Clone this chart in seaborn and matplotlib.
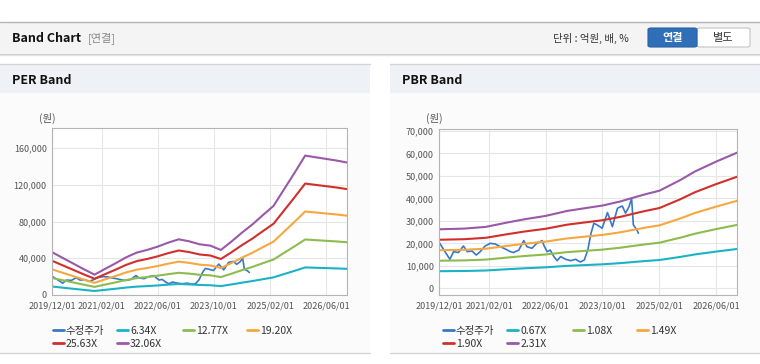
import pandas as pd
import seaborn as sns
import matplotlib.pyplot as plt
from matplotlib.patches import Rectangle, FancyBboxPatch
from matplotlib.lines import Line2D

sns.set_style('white')
plt.rcParams['font.family'] = ['Noto Sans CJK KR', 'DejaVu Sans']

# adjusted share price (shared by both charts)
price_dates = ['2019-12-01', '2020-01-04', '2020-03-01', '2020-04-01', '2020-05-13', '2020-06-25',
               '2020-07-28', '2020-09-07', '2020-10-13', '2020-11-16', '2020-12-28', '2021-02-10',
               '2021-03-25', '2021-05-07', '2021-06-19', '2021-08-01', '2021-08-28', '2021-10-13',
               '2021-11-25', '2021-12-22', '2022-02-03', '2022-03-16', '2022-05-01', '2022-05-19',
               '2022-06-13', '2022-07-10', '2022-08-10', '2022-09-07', '2022-10-07', '2022-11-19',
               '2023-01-01', '2023-02-13', '2023-03-25', '2023-04-28', '2023-05-28', '2023-06-25',
               '2023-07-19', '2023-08-16', '2023-09-28', '2023-11-13', '2023-12-25', '2024-02-07',
               '2024-03-19', '2024-04-16', '2024-05-16', '2024-06-07', '2024-06-22', '2024-07-22',
               '2024-08-04']
price_values = [20300, 17500, 12900, 16300, 15900, 18800, 16300, 16600, 14800, 16300, 18800, 20000,
                19700, 18500, 17500, 16300, 15900, 17000, 21200, 18500, 17800, 20000, 21200, 18800,
                16300, 17000, 14100, 12300, 14100, 12900, 12300, 12900, 11700, 12600, 17000, 24500,
                28900, 28200, 26700, 33700, 27400, 35600, 36600, 33400, 36300, 40000, 28200, 26000,
                24500]

# EPS behind the PER band
eps_dates = ['2019-12-01', '2020-03-01', '2020-06-01', '2020-09-01', '2020-12-01', '2021-03-01',
             '2021-06-01', '2021-09-01', '2021-12-01', '2022-03-01', '2022-06-01', '2022-09-01',
             '2022-12-01', '2023-03-01', '2023-06-01', '2023-09-01', '2023-12-01', '2024-03-01',
             '2024-06-01', '2024-09-01', '2024-12-01', '2025-03-01', '2025-06-01', '2025-09-01',
             '2025-12-01', '2026-03-01', '2026-06-01', '2026-09-01', '2026-12-01']
eps_values = [1451, 1259, 1066, 873, 692, 884, 1077, 1281, 1440, 1531, 1644, 1780, 1893, 1825, 1723,
              1678, 1531, 1814, 2120, 2404, 2721, 3027, 3594, 4161, 4739, 4682, 4626, 4569, 4501]
per_multiples = [6.34, 12.77, 19.20, 25.63, 32.06]

# BPS behind the PBR band
bps_dates = ['2019-12-01', '2020-07-01', '2021-01-01', '2021-07-01', '2021-12-01', '2022-06-01',
             '2022-12-01', '2023-05-01', '2023-10-01', '2024-03-01', '2024-06-01', '2024-10-01',
             '2025-02-01', '2025-08-01', '2025-12-01', '2026-06-01', '2026-12-01']
bps_values = [11364, 11494, 11818, 12641, 13290, 13939, 14892, 15411, 15931, 16710, 17316, 18095,
              18788, 20866, 22468, 24372, 26126]
pbr_multiples = [0.67, 1.08, 1.49, 1.90, 2.31]

x_ticks = ['2019/12/01', '2021/02/01', '2022/06/01', '2023/10/01', '2025/02/01', '2026/06/01']
colors = ['#3878c8', '#1cb2c6', '#8dbc4e', '#f5a740', '#d12f2c', '#9a58a8']

W, H = 760, 364


def fx(x):
    return x / W


def fy(y):
    return 1 - y / H


def rect(fig, x0, y0, x1, y1, color, z=-3):
    fig.add_artist(Rectangle((fx(x0), fy(y1)), (x1 - x0) / W, (y1 - y0) / H,
                             transform=fig.transFigure, facecolor=color, edgecolor='none', zorder=z))


def hline(fig, x0, x1, y, color):
    fig.add_artist(Line2D([fx(x0), fx(x1)], [fy(y), fy(y)], transform=fig.transFigure,
                          color=color, lw=1, zorder=-1))


def build_df(base_dates, base_values, multiples):
    frames = [pd.DataFrame({'date': pd.to_datetime(price_dates), 'value': price_values, 'series': '수정주가'})]
    labels = ['수정주가']
    for m in multiples:
        lab = f'{m:.2f}X'
        labels.append(lab)
        frames.append(pd.DataFrame({'date': pd.to_datetime(base_dates),
                                    'value': [v * m for v in base_values], 'series': lab}))
    return pd.concat(frames, ignore_index=True), labels


def draw_chart(fig, rect_ax, df, labels, ylim, yticks, legend_x, unit_x):
    ax = fig.add_axes(rect_ax)
    ax.set_facecolor('white')
    sns.lineplot(data=df, x='date', y='value', hue='series', hue_order=labels,
                 palette=colors, linewidth=1.5, legend=False, ax=ax)
    ax.lines[0].set_linewidth(1.2)
    ax.set_xlim(pd.Timestamp('2019-12-01'), pd.Timestamp('2026-12-01'))
    ax.set_ylim(*ylim)
    ax.set_xticks(pd.to_datetime([t.replace('/', '-') for t in x_ticks]))
    ax.set_xticklabels(x_ticks)
    ax.set_yticks(yticks)
    ax.set_yticklabels([f'{v:,}' for v in yticks])
    ax.set_xlabel('')
    ax.set_ylabel('')
    ax.grid(True, color='#e6e6e6', lw=0.8)
    ax.set_axisbelow(True)
    for s in ax.spines.values():
        s.set_color('#b4b4b4')
        s.set_linewidth(0.8)
    ax.tick_params(axis='both', length=0, labelsize=6.5, labelcolor='#555555')
    ax.tick_params(axis='x', pad=5)
    ax.tick_params(axis='y', pad=4)
    fig.text(fx(unit_x), fy(118), '(원)', fontsize=7.5, color='#555555', ha='center', va='center')

    rows = [331, 344]
    for i, lab in enumerate(labels):
        h = Line2D([], [], color=colors[i], lw=2)
        fig.legend(handles=[h], labels=[lab], loc='center left',
                   bbox_to_anchor=(fx(legend_x[i % 4]), fy(rows[i // 4])),
                   frameon=False, borderpad=0, borderaxespad=0, handlelength=1.05,
                   handletextpad=0.2, fontsize=7.5, labelcolor='#333333')
    return ax


fig = plt.figure(figsize=(7.6, 3.64), dpi=100)
fig.patch.set_facecolor('white')

# top header bar
rect(fig, 0, 22, 760, 53, '#f4f4f4')
hline(fig, 0, 760, 22, '#b4b4b4')
hline(fig, 0, 760, 53.5, '#c8c8c8')
hline(fig, 0, 760, 54.5, '#e4e4e4')
fig.text(fx(12), fy(38), 'Band Chart', fontsize=9, fontweight='bold', color='#111111', va='center')
fig.text(fx(88), fy(38), '[연결]', fontsize=8, color='#888888', va='center')
fig.text(fx(553), fy(38), '단위 : 억원, 배, %', fontsize=7.5, color='#333333', va='center')
fig.add_artist(FancyBboxPatch((fx(697), fy(47)), fx(53), 19 / H, boxstyle='round,pad=0,rounding_size=0.004',
                              transform=fig.transFigure, facecolor='white', edgecolor='#c4c4c4', lw=0.8, zorder=-1))
fig.add_artist(FancyBboxPatch((fx(648), fy(47)), fx(49), 19 / H, boxstyle='round,pad=0,rounding_size=0.004',
                              transform=fig.transFigure, facecolor='#2f6fb8', edgecolor='#2a62a5', lw=0.8, zorder=-1))
fig.text(fx(672.5), fy(37.5), '연결', fontsize=8, fontweight='bold', color='white', ha='center', va='center')
fig.text(fx(723.5), fy(37.5), '별도', fontsize=8, color='#333333', ha='center', va='center')

# panels
for x0, x1, title in [(0, 370, 'PER Band'), (390, 760, 'PBR Band')]:
    rect(fig, x0, 64, x1, 93, '#eef2f7')
    rect(fig, x0, 93, x1, 353, '#fbfbfb')
    hline(fig, x0, x1, 64, '#d4d4d4')
    hline(fig, x0, x1, 353, '#d4d4d4')
    fig.text(fx(x0 + 12), fy(80), title, fontsize=9, fontweight='bold', color='#111111', va='center')

per_df, per_labels = build_df(eps_dates, eps_values, per_multiples)
pbr_df, pbr_labels = build_df(bps_dates, bps_values, pbr_multiples)

draw_chart(fig, [fx(52.3), fy(295), 295 / W, 167 / H], per_df, per_labels,
           (0, 182000), list(range(0, 160001, 40000)), [52.7, 117, 183, 247], 47.5)
draw_chart(fig, [fx(439.3), fy(295), 298 / W, 165.7 / H], pbr_df, pbr_labels,
           (-2970, 70700), list(range(0, 70001, 10000)), [442.7, 507.3, 572.7, 637.3], 434)

fig.savefig('out.png', dpi=100, facecolor='white')
